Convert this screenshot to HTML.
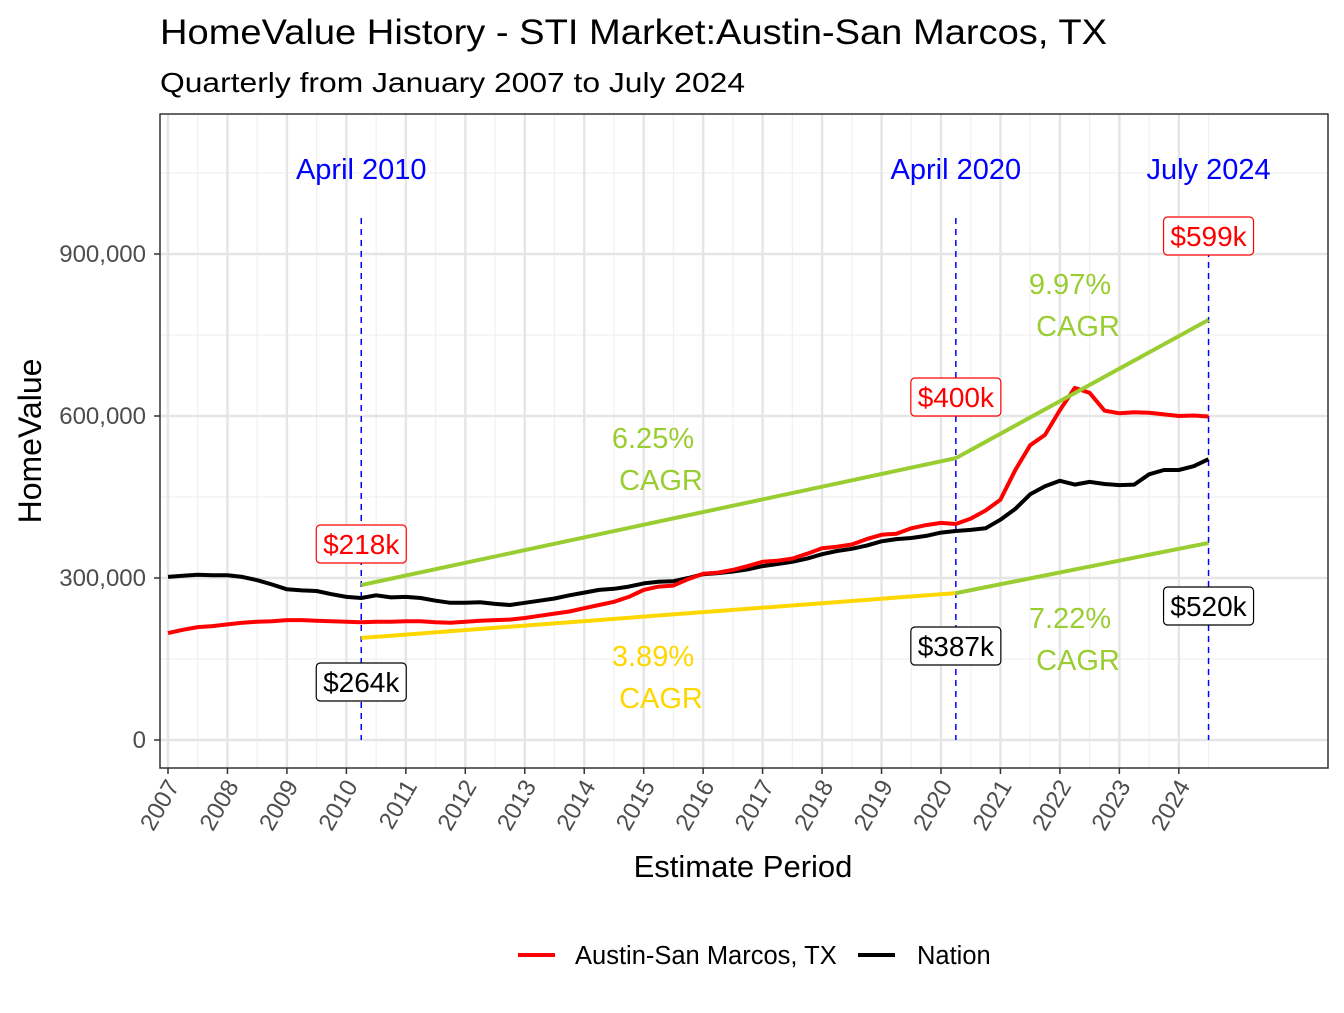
<!DOCTYPE html>
<html><head><meta charset="utf-8"><style>
body{margin:0;background:#fff;font-family:"Liberation Sans",Arial,sans-serif}
svg text{font-family:"Liberation Sans",Arial,sans-serif}
</style></head><body>
<svg id="chart" width="1344" height="1008" xmlns="http://www.w3.org/2000/svg">
<text x="160" y="44" font-size="35" textLength="947" lengthAdjust="spacingAndGlyphs" fill="#000">HomeValue History - STI Market:Austin-San Marcos, TX</text>
<text x="160" y="92" font-size="28" textLength="585" lengthAdjust="spacingAndGlyphs" fill="#000">Quarterly from January 2007 to July 2024</text>
<g id="grid"></g>
<g id="marks"></g>
<rect x="160" y="114" width="1168" height="654" fill="none" stroke="#333" stroke-width="1.5"/>
<g id="axes"></g>
<text x="743" y="877" font-size="31" text-anchor="middle">Estimate Period</text>
<text transform="translate(41,441) rotate(-90)" font-size="32" text-anchor="middle">HomeValue</text>
<g>
<line x1="518" y1="955" x2="555" y2="955" stroke="#f00" stroke-width="4"/>
<text x="575" y="964" font-size="25.5">Austin-San Marcos, TX</text>
<line x1="858" y1="955" x2="895" y2="955" stroke="#000" stroke-width="4"/>
<text x="917" y="964" font-size="25.5">Nation</text>
</g>
</svg>
<script>
const austin=[198,204,209,211,214,217,219,220,222,222,221,220,219,218,219,219,220,220,218,217,219,221,222,223,226,230,234,238,244,250,256,265,278,284,286,298,308,310,315,322,330,332,336,345,355,358,362,372,380,382,392,398,402,400,410,425,445,500,546,565,611,652,643,610,605,607,606,603,600,601,599];
const nation=[302,304,306,305,305,302,296,288,279,277,276,270,265,263,268,264,265,263,258,254,254,255,252,250,254,258,262,268,273,278,280,284,290,293,294,300,307,309,312,316,322,326,330,336,344,350,354,360,368,372,374,378,384,387,389,392,408,428,455,470,480,473,478,474,472,473,492,500,500,507,520];
const yTicks=[0,300000,600000,900000];
const yTickLabels=["0","300,000","600,000","900,000"];
const years=[2007,2008,2009,2010,2011,2012,2013,2014,2015,2016,2017,2018,2019,2020,2021,2022,2023,2024];
const cagrUpper=[287,522,778];
const cagrLower=[189,272,365];
const cagrDates=[2010.25,2020.25,2024.5];
const events=["April 2010","April 2020","July 2024"];
const austinLabels=["$218k","$400k","$599k"];
const nationLabels=["$264k","$387k","$520k"];
const cagrTexts=["6.25%","9.97%","3.89%","7.22%"];

const NS="http://www.w3.org/2000/svg";
const X=t=>168+(t-2007)*59.46;
const Y=v=>740-v*0.00054;
function mk(p,tag,a){const e=document.createElementNS(NS,tag);for(const k in a)e.setAttribute(k,a[k]);p.appendChild(e);return e;}
const grid=document.getElementById('grid'),marks=document.getElementById('marks'),axes=document.getElementById('axes');
mk(grid,'rect',{x:160,y:114,width:1168,height:654,fill:'#fff'});
for(let v=150000;v<1100000;v+=300000){const l=mk(grid,'line',{x1:160,x2:1328,y1:Y(v),y2:Y(v),stroke:'#f0f0f0','stroke-width':1.2});

}
years.forEach(y=>{const l=mk(grid,'line',{x1:X(y+0.5),x2:X(y+0.5),y1:114,y2:768,stroke:'#f0f0f0','stroke-width':1.2});

});
yTicks.forEach((v,i)=>{const l=mk(grid,'line',{x1:160,x2:1328,y1:Y(v),y2:Y(v),stroke:'#e5e5e5','stroke-width':2.4});


const tk=mk(axes,'line',{x1:154,x2:160,y1:Y(v),y2:Y(v),stroke:'#333','stroke-width':1.5});


const t=mk(axes,'text',{x:146,y:Y(v)+8,'font-size':24,fill:'#4d4d4d','text-anchor':'end'});t.textContent=yTickLabels[i];

});
years.forEach(y=>{const l=mk(grid,'line',{x1:X(y),x2:X(y),y1:114,y2:768,stroke:'#e5e5e5','stroke-width':2.4});


const tk=mk(axes,'line',{x1:X(y),x2:X(y),y1:768,y2:774,stroke:'#333','stroke-width':1.5});


const t=mk(axes,'text',{transform:`translate(${X(y)+12},${786}) rotate(-60)`,'font-size':24,fill:'#4d4d4d','text-anchor':'end'});t.textContent=y;

});
cagrDates.forEach((d,i)=>{const l=mk(marks,'line',{x1:X(d),x2:X(d),y1:218,y2:740,stroke:'#00f','stroke-width':1.5,'stroke-dasharray':'6,5'});


const t=mk(marks,'text',{x:X(d),y:179,'font-size':29,fill:'#00f','text-anchor':'middle'});t.textContent=events[i];

});
function path(arr,color,name){const d=arr.map((v,i)=>(i?'L':'M')+X(2007+i/4).toFixed(1)+','+Y(v*1000).toFixed(1)).join('');
const p=mk(marks,'path',{d:d,fill:'none',stroke:color,'stroke-width':4,'stroke-linejoin':'round'});

}
path(nation,'#000','nation-line');
path(austin,'#f00','austin-line');
function seg(a,b,i,color,name){const l=mk(marks,'line',{x1:X(cagrDates[i]),y1:Y(a*1000),x2:X(cagrDates[i+1]),y2:Y(b*1000),stroke:color,'stroke-width':4});

}
seg(cagrUpper[0],cagrUpper[1],0,'#9acd32','cagr-austin-2010-2020');
seg(cagrUpper[1],cagrUpper[2],1,'#9acd32','cagr-austin-2020-2024');
seg(cagrLower[0],cagrLower[1],0,'#ffd700','cagr-nation-2010-2020');
seg(cagrLower[1],cagrLower[2],1,'#9acd32','cagr-nation-2020-2024');
const cpos=[[653,438,'#9acd32'],[1070,284,'#9acd32'],[653,656,'#ffd700'],[1070,618,'#9acd32']];
cagrTexts.forEach((s,i)=>{const [x,y,c]=cpos[i];
const t=mk(marks,'text',{x:x,y:y+10,'font-size':29,fill:c,'text-anchor':'middle'});t.textContent=s;


const t2=mk(marks,'text',{x:x+8,y:y+52,'font-size':29,fill:c,'text-anchor':'middle'});t2.textContent='CAGR';

});
function box(x,y,s,color,name){const w=s.length*16+10;
const r=mk(marks,'rect',{x:x-w/2,y:y-19,width:w,height:38,rx:4,fill:'#fff',stroke:color,'stroke-width':1.2});


const t=mk(marks,'text',{x:x,y:y+10,'font-size':28,fill:color,'text-anchor':'middle'});t.textContent=s;

}
const ay=[544,397,236],ny=[682,646,606];
cagrDates.forEach((d,i)=>{box(X(d),ay[i],austinLabels[i],'#f00','austin-value-label');box(X(d),ny[i],nationLabels[i],'#000','nation-value-label');});
</script>
</body></html>
